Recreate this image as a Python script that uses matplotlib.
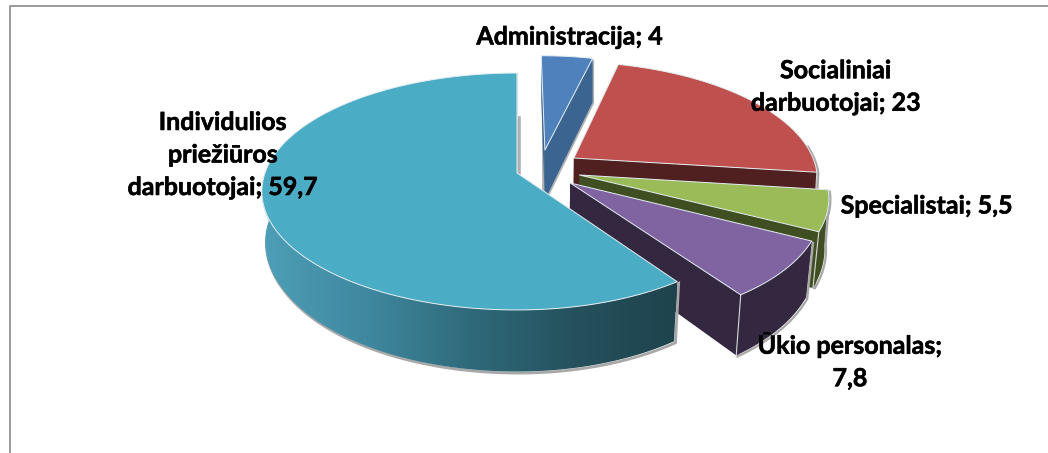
import numpy as np
import matplotlib
matplotlib.use("Agg")
import matplotlib.pyplot as plt
import matplotlib.patheffects as pe
from matplotlib.patches import Polygon
from matplotlib.colors import LinearSegmentedColormap

# duomenys
categories = ["Administracija", "Socialiniai darbuotojai", "Specialistai", "Ūkio personalas", "Individulios priežiūros darbuotojai"]
values = [4, 23, 5.5, 7.8, 59.7]
labels = ["Administracija; 4", "Socialiniai\ndarbuotojai; 23", "Specialistai; 5,5", "Ūkio personalas;\n7,8", "Individulios\npriežiūros\ndarbuotojai; 59,7"]

# isdestymas ir spalvos
top_colors = ["#4f81bd", "#c0504d", "#9bbb59", "#8064a2", "#4bacc6"]
side_colors = ["#3b6590", "#4f201f", "#3f4f22", "#342840", None]
shifts = [(0.118, 0.205), (0.238, 0.132), (0.255, -0.017), (0.215, -0.085), (0, 0)]
label_pos = [(570, 37), (836, 87), (927, 206), (850, 361), (223, 155)]

cx, cy = 517, 173
rx_left, rx_right, ry, persp = 252, 244, 115.6, 0.156
depth = 52


def project(u, v, low=False):
    u, v = np.asarray(u, float), np.asarray(v, float)
    s = 1 / (1 + persp * v)
    x = np.where(u < 0, rx_left, rx_right) * u * s
    y = -ry * v * s
    if low:
        # apatine plokstuma toliau, todel siek tiek siauresne
        return cx + x * (1 - 0.02 * np.clip(0.5 - v, 0, 1)), cy + y + depth * s
    return cx + x, cy + y


fig = plt.figure(figsize=(10.48, 4.53), dpi=100)
ax = fig.add_axes([0, 0, 1, 1])
ax.set_xlim(0, 1048)
ax.set_ylim(453, 0)
ax.axis("off")
# remelis: matomas tik virsus ir kaire
ax.plot([9.5, 9.5, 1048], [453, 5.5, 5.5], color="#9a9a9a", lw=1.4, zorder=0)

teal_side = LinearSegmentedColormap.from_list("teal", ["#4d9fb7", "#3f889f", "#2f6a7b", "#25515d", "#1e434d"])

start = 90.0
z = 1
for val, top, side, (du, dv) in zip(values, top_colors, side_colors, shifts):
    end = start - val * 3.6
    t = np.radians(np.linspace(start, end, 160))
    u, v = np.cos(t) + du, np.sin(t) + dv
    tx, ty = project(u, v)
    bx, by = project(u, v, low=True)
    ax0, ay0 = project(du, dv)
    bx0, by0 = project(du, dv, low=True)

    walls = [[(ax0, ay0), (tx[0], ty[0]), (bx[0], by[0]), (bx0, by0)],
             [(ax0, ay0), (tx[-1], ty[-1]), (bx[-1], by[-1]), (bx0, by0)]]
    # isorine siena tik ten, kur ji matoma (priekyje)
    vis = np.sin(t) < 0.12
    if vis.any():
        outer = np.r_[np.c_[tx[vis], ty[vis]], np.c_[bx[vis], by[vis]][::-1]]

    if side is None:
        # uz pjuvio matomas seselis ties vertikaliu kastu
        ax.plot([ax0 + 2, ax0 + 2], [ay0, ay0 - 55], color="#b0b0b0", lw=2.6, zorder=z)
        ax.add_patch(Polygon(outer + [1.5, 1.5], closed=True, fc="none", ec="#a8a8a8", lw=2, zorder=z))
        z += 1
        patch = Polygon(outer, closed=True, fc="none", ec="none", zorder=z)
        ax.add_patch(patch)
        im = ax.imshow(np.linspace(0, 1, 256)[None, :], extent=(262, 680, 400, 150), cmap=teal_side,
                       aspect="auto", zorder=z)
        im.set_clip_path(patch)
        ax.set_xlim(0, 1048)
        ax.set_ylim(453, 0)
        ax.plot([tx[-1], bx[-1]], [ty[-1], by[-1]], color="#d8d8d8", lw=0.9, zorder=z)
    else:
        for w in walls:
            ax.add_patch(Polygon(np.array(w) + [1.5, 1], closed=True, fc="#b0b0b0", ec="none", zorder=z))
        if top == top_colors[0]:
            ax.plot([bx0 - 1.5, bx0 - 1.5], [by0, ay0 - 48], color="#b0b0b0", lw=2, zorder=z)
        if vis.any():
            ax.add_patch(Polygon(outer + [1.5, 1], closed=True, fc="none", ec="#a8a8a8", lw=1.6, zorder=z))
            ax.add_patch(Polygon(outer, closed=True, fc=side, ec="none", zorder=z + 1))
        for w in walls:
            ax.add_patch(Polygon(w, closed=True, fc=side, ec="none", zorder=z + 1))
        if vis.any():
            ax.plot([tx[-1], bx[-1]], [ty[-1], by[-1]], color="#d8d8d8", lw=0.8, zorder=z + 1)
    z += 2
    face = np.r_[[(ax0, ay0)], np.c_[tx, ty]]
    ax.add_patch(Polygon(face, closed=True, fc=top, ec="#e4eef2", lw=0.7, joinstyle="round", zorder=z))
    z += 1
    start = end

for text, (lx, ly) in zip(labels, label_pos):
    ax.text(lx, ly, text, ha="center", va="center", fontsize=18, fontweight="bold",
            family="Lato", color="black", linespacing=1.5, zorder=z,
            path_effects=[pe.withStroke(linewidth=0.4, foreground="black")])

fig.savefig("out.png", dpi=100)
